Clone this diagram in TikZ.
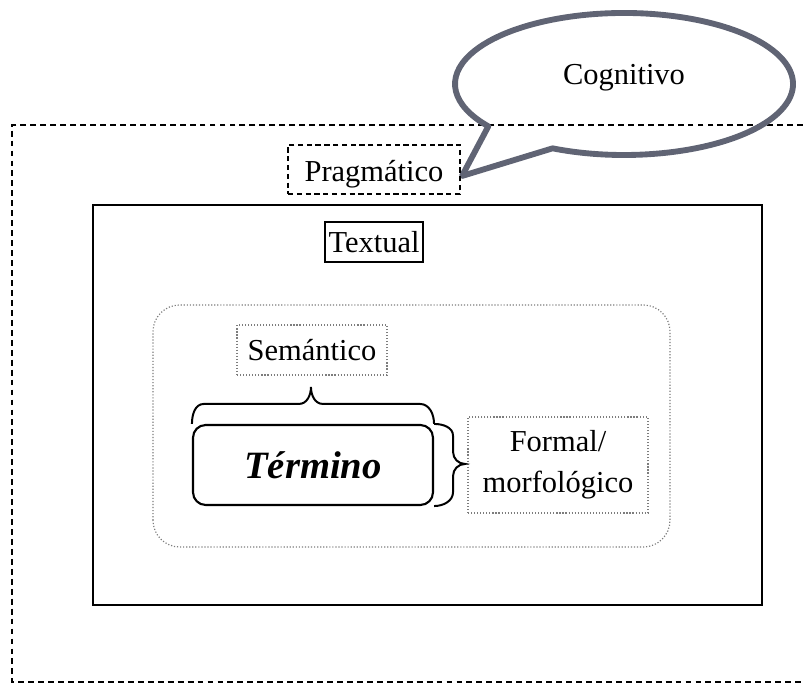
\documentclass[tikz,border=0pt]{standalone}
\usepackage{fontspec}
\setmainfont{Liberation Serif}
\usetikzlibrary{calc}

\definecolor{calloutgray}{RGB}{96,100,116}
\definecolor{dotgray}{RGB}{125,125,125}

\begin{document}
\begin{tikzpicture}[x=0.03cm, y=0.03cm,
  every node/.style={font=\fontsize{26}{30}\selectfont, inner sep=0pt},
  frame/.style={line width=1.6pt, dash pattern=on 5pt off 3.5pt},
  dashbox/.style={draw, line width=1.4pt, dash pattern=on 4.5pt off 3pt},
  dotbox/.style={draw=dotgray, line width=1pt, dash pattern=on 1pt off 1.6pt},
  brace/.style={line width=1.7pt}
]

% Canvas
\useasboundingbox (0,0) rectangle (803,684);

% Outer dashed frame (open on the right)
\draw[frame] (803,559) -- (12,559) -- (12,2) -- (803,2);

% Speech bubble
\draw[calloutgray, line width=5pt, line join=round]
  ({624+169*cos(245)},{600+71*sin(245)})
  arc[start angle=245, end angle=576.6, x radius=169, y radius=71]
  -- (462,508) -- cycle;
\node (cogn) at (624,606) {Cognitivo};

% Pragmatic level
\node[dashbox, minimum width=172*0.03cm, minimum height=49*0.03cm,
  text height=27pt, text depth=6pt]
  (prag) at (374,514.5) {Pragmático};

% Textual level
\draw[line width=1.8pt] (93,79) rectangle (762,479);
\node[draw, line width=1.3pt, minimum width=98*0.03cm, minimum height=40*0.03cm]
  (textual) at (374,442) {Textual};

% Inner dotted frame
\draw[dotbox, rounded corners=0.8cm] (153,137) rectangle (670,379);

\node[dotbox, minimum width=150*0.03cm, minimum height=50*0.03cm]
  (sem) at (312,334) {Semántico};

% Term
\node[draw, line width=1.8pt, rounded corners=0.38cm,
  minimum width=240*0.03cm, minimum height=80*0.03cm,
  font=\fontsize{33}{36}\selectfont\bfseries\itshape]
  (termino) at (313,219) {Término};

\node[dotbox, minimum width=180*0.03cm, minimum height=96*0.03cm,
  align=center] (formal) at (558,219) {Formal/\\[5pt]morfológico};

% Braces
\draw[brace] (termino.north west) to[out=90,in=180] ++(12,20) -- ++(95,0)
  to[out=0,in=-90] ++(12,17) to[out=-90,in=180] ++(12,-17) -- ++(97,0)
  to[out=0,in=90] (termino.north east);
\draw[brace] (termino.north east) to[out=0,in=90] ++(19,-12) -- ++(0,-16)
  to[out=-90,in=180] ++(12,-12) to[out=180,in=90] ++(-12,-12) -- ++(0,-16)
  to[out=-90,in=0] (termino.south east);

\end{tikzpicture}
\end{document}
